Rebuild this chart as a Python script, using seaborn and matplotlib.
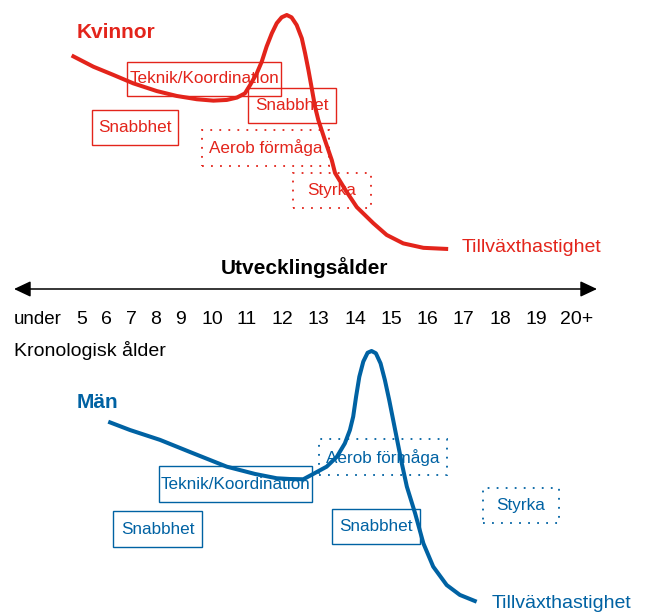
import numpy as np
import pandas as pd
import matplotlib
matplotlib.use("Agg")
import matplotlib.pyplot as plt
import seaborn as sns
from matplotlib.patches import Rectangle

# ------------------------------------------------------------------ data
age_ticks = [5, 6, 7, 8, 9, 10, 11, 12, 13, 14, 15, 16, 17, 18, 19, 20]
age_tick_labels = ["5", "6", "7", "8", "9", "10", "11", "12", "13", "14",
                   "15", "16", "17", "18", "19", "20+"]

# growth velocity (% of peak) vs developmental age
women_age = [4.61, 5.47, 6.27, 7.09, 8.03, 8.83, 9.51, 10.04, 10.42, 10.71,
             10.94, 11.09, 11.28, 11.42, 11.56, 11.71, 11.85, 11.99, 12.13,
             12.26, 12.40, 12.54, 12.63, 12.72, 12.81, 12.90, 12.99, 13.17,
             13.36, 13.45, 13.77, 14.05, 14.51, 14.88, 15.34, 15.90, 16.58]
women_rate = [82.7, 77.9, 74.4, 70.8, 67.5, 65.4, 64.0, 63.4, 63.7, 64.7,
              66.5, 70.1, 75.1, 80.0, 86.5, 92.2, 96.5, 99.0, 100.0,
              99.0, 95.7, 90.0, 83.6, 76.5, 68.7, 60.8, 55.1, 46.6,
              38.0, 32.5, 24.4, 17.9, 11.0, 6.0, 2.4, 0.5, 0.0]

men_age = [6.06, 6.96, 8.16, 9.29, 10.42, 11.23, 11.85, 12.22, 12.58, 12.85,
           13.22, 13.50, 13.72, 13.86, 13.95, 14.03, 14.12, 14.23, 14.35,
           14.46, 14.58, 14.71, 14.83, 14.95, 15.06, 15.17, 15.30, 15.44,
           15.67, 15.90, 16.17, 16.54, 16.90, 17.36]
men_rate = [72.0, 68.7, 64.8, 60.0, 54.2, 51.3, 49.6, 49.3, 49.2, 51.3,
            54.2, 58.1, 63.4, 68.7, 74.0, 81.9, 89.8, 95.8, 99.3,
            100.0, 99.1, 95.1, 88.5, 80.6, 72.7, 64.8, 55.5, 46.3,
            35.7, 23.8, 14.6, 7.3, 3.4, 0.7]

# training windows (age spans)
women_box_label = ["Teknik/Koordination", "Snabbhet", "Snabbhet",
                   "Aerob förmåga", "Styrka"]
women_box_start = [6.84, 5.42, 11.03, 9.68, 12.30]
women_box_end = [11.97, 8.88, 13.47, 13.28, 14.44]
women_box_dotted = [False, False, False, True, True]

men_box_label = ["Teknik/Koordination", "Snabbhet", "Aerob förmåga",
                 "Snabbhet", "Styrka"]
men_box_start = [8.12, 6.26, 13.01, 13.37, 17.53]
men_box_end = [12.82, 9.68, 16.55, 15.81, 19.56]
men_box_dotted = [False, False, True, False, True]

# ------------------------------------------------------------------ style
RED = "#e3241b"
BLUE = "#0062a3"
sns.set_theme(style="white")
plt.rcParams["font.family"] = ["Liberation Sans", "DejaVu Sans"]

# layout: horizontal position of each age on the developmental axis
knot_age = [0, 5, 6, 7, 8, 9, 10, 11, 12, 13, 14, 15, 16, 17, 18, 19, 20, 25]
knot_pos = [-45, 81.5, 106.8, 131, 156, 181, 212, 247, 282, 318.7, 355,
            391, 427, 463.5, 500, 536, 577, 782]


def fwd(a):
    return np.interp(a, knot_age, knot_pos)


def inv(p):
    return np.interp(p, knot_pos, knot_age)


W, H = 649, 612
fig = plt.figure(figsize=(W / 100, H / 100), dpi=100)


def make_axes(top_px, bottom_px):
    ax = fig.add_axes([0, 1 - bottom_px / H, 1, (bottom_px - top_px) / H])
    ax.set_xscale("function", functions=(fwd, inv))
    ax.set_xlim(inv(0), inv(W))
    ax.set_facecolor("none")
    ax.axis("off")
    return ax


# women panel (rate 0 at px 249, 100 at px 15)
ax_w = make_axes(0, 260)
ax_w.set_ylim((249 - 260) / 2.34, 249 / 2.34)
# men panel (rate 0 at px 603.5, 100 at px 351)
ax_m = make_axes(340, 612)
ax_m.set_ylim((603.5 - 612) / 2.525, (603.5 - 340) / 2.525)
# middle axis panel (pixel-like vertical units)
ax_c = make_axes(255, 365)
ax_c.set_ylim(365, 255)

women_rows = [(65.4, 79.9), (44.4, 59.4), (53.8, 68.8), (35.5, 50.9), (17.5, 32.5)]
men_rows = [(40.2, 54.3), (22.4, 36.6), (50.9, 65.1), (23.6, 37.4), (31.9, 45.7)]


def draw_boxes(ax, labels, starts, ends, dotted, rows, color):
    for lab, a0, a1, dot, (r0, r1) in zip(labels, starts, ends, dotted, rows):
        ls = (0, (1, 4)) if dot else "-"
        lw = 1.3 if dot else 1.0
        ax.add_patch(Rectangle((a0, r0), a1 - a0, r1 - r0, fill=False,
                               edgecolor=color, lw=lw, linestyle=ls, zorder=2))
        xc = inv((fwd(a0) + fwd(a1)) / 2)
        ax.text(xc, (r0 + r1) / 2, lab, color=color, fontsize=12.3,
                ha="center", va="center", zorder=3)


draw_boxes(ax_w, women_box_label, women_box_start, women_box_end,
           women_box_dotted, women_rows, RED)
draw_boxes(ax_m, men_box_label, men_box_start, men_box_end,
           men_box_dotted, men_rows, BLUE)

sns.lineplot(x=women_age, y=women_rate, ax=ax_w, color=RED, lw=2.9,
             sort=False, estimator=None, zorder=4,
             solid_joinstyle="round", solid_capstyle="butt")
sns.lineplot(x=men_age, y=men_rate, ax=ax_m, color=BLUE, lw=2.9,
             sort=False, estimator=None, zorder=4,
             solid_joinstyle="round", solid_capstyle="butt")
for ax in (ax_w, ax_m, ax_c):
    ax.axis("off")

# titles / curve labels
ax_w.text(inv(77), (249 - 32) / 2.34, "Kvinnor", color=RED, fontsize=15,
          fontweight="bold", ha="left", va="center")
ax_w.text(inv(462), (249 - 247) / 2.34, "Tillväxthastighet", color=RED,
          fontsize=14, ha="left", va="center")
ax_m.text(inv(77), (603.5 - 402) / 2.525, "Män", color=BLUE, fontsize=15,
          fontweight="bold", ha="left", va="center")
ax_m.text(inv(492), (603.5 - 603) / 2.525, "Tillväxthastighet", color=BLUE,
          fontsize=14, ha="left", va="center")

# developmental age axis
ax_c.text(inv(304.5), 268, "Utvecklingsålder", fontsize=15,
          fontweight="bold", ha="center", va="center", color="black")
ax_c.annotate("", xy=(inv(597), 289), xytext=(inv(14), 289),
              arrowprops=dict(arrowstyle="<|-|>,head_length=0.85,head_width=0.4",
                              color="black", lw=1.1, shrinkA=0, shrinkB=0))
ax_c.text(inv(14), 320, "under", fontsize=13.5, ha="left", va="center",
          color="black")
for a, lab in zip(age_ticks, age_tick_labels):
    ax_c.text(a, 320, lab, fontsize=14, ha="center", va="center",
              color="black")
ax_c.text(inv(14), 350, "Kronologisk ålder", fontsize=14, ha="left",
          va="center", color="black")

fig.savefig("out.png", dpi=100, facecolor="white")
